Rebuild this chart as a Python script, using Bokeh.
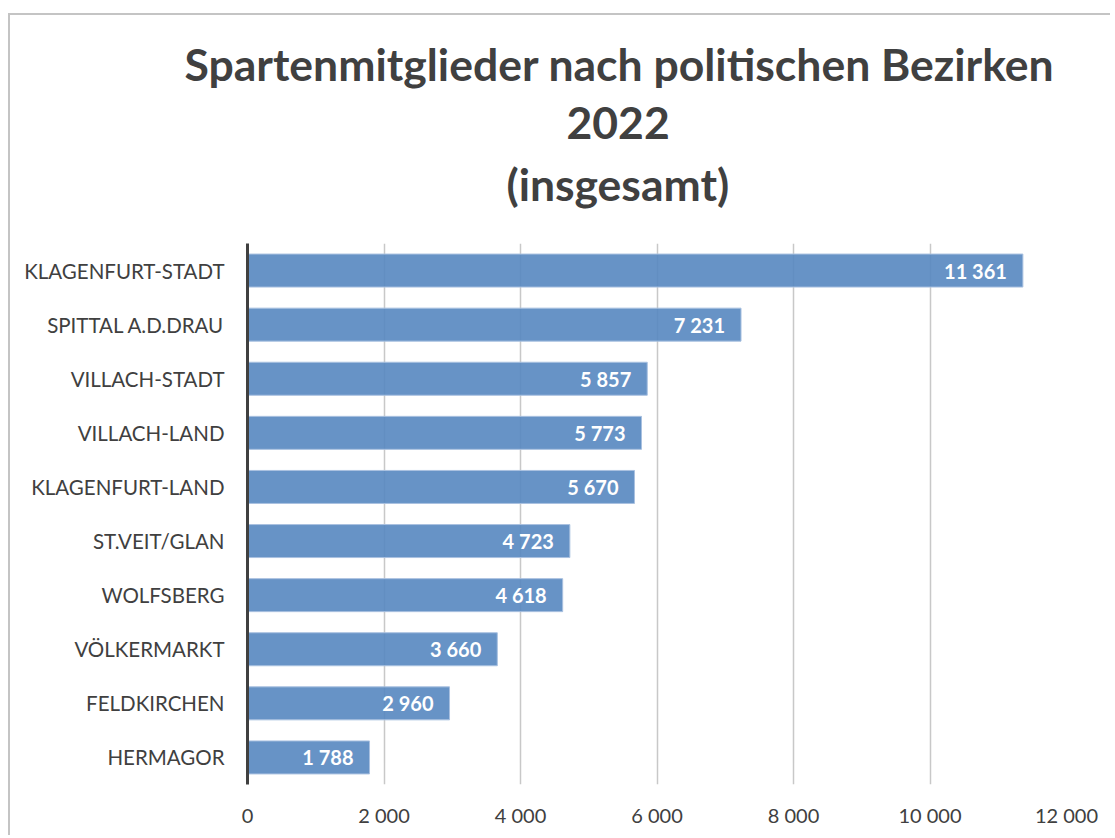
from bokeh.plotting import figure
from bokeh.models import ColumnDataSource, Title, FactorRange, Range1d, FixedTicker, CustomJSTickFormatter
from bokeh.embed import file_html
from bokeh.resources import INLINE
from bokeh.core.properties import value

districts = ["KLAGENFURT-STADT", "SPITTAL A.D.DRAU", "VILLACH-STADT", "VILLACH-LAND",
             "KLAGENFURT-LAND", "ST.VEIT/GLAN", "WOLFSBERG", "VÖLKERMARKT",
             "FELDKIRCHEN", "HERMAGOR"]
members = [11361, 7231, 5857, 5773, 5670, 4723, 4618, 3660, 2960, 1788]
x_ticks = [0, 2000, 4000, 6000, 8000, 10000, 12000]
title_lines = ["Spartenmitglieder nach politischen Bezirken", "2022", "(insgesamt)"]

def fmt(v):
    return "{:,}".format(v).replace(",", " ")

src = ColumnDataSource(dict(d=districts, m=members, lbl=[fmt(v) for v in members]))

W, H = 1110, 835
p = figure(width=W, height=H, output_backend="svg", toolbar_location=None,
           y_range=FactorRange(*reversed(districts)), x_range=Range1d(0, 12000),
           min_border_left=247, min_border_right=44, min_border_top=243, min_border_bottom=51)
p.styles = {"background": "linear-gradient(#c4c4c4, #c4c4c4) 8px 13px / 100% 2px no-repeat, "
                          "linear-gradient(#c4c4c4, #c4c4c4) 8px 13px / 2px 100% no-repeat"}
p.outline_line_color = None
p.background_fill_color = "white"
p.border_fill_color = None
p.title.visible = False

p.hbar(y="d", right="m", left=0, height=0.61, source=src,
       fill_color="#5687c0", fill_alpha=0.9, line_color="#a9c1e0", line_width=1)
p.text(x="m", y="d", text="lbl", source=src, x_offset=-16, text_align="right",
       text_baseline="middle", text_color="white", text_font=value("Lato"),
       text_font_style="bold", text_font_size="20px")

p.xaxis.ticker = FixedTicker(ticks=x_ticks)
p.xaxis.formatter = CustomJSTickFormatter(code="return tick == 0 ? '0' : (Math.floor(tick/1000) + ' ' + String(tick % 1000).padStart(3, '0'));")
p.xaxis.axis_line_color = None
p.xaxis.major_tick_line_color = None
p.xaxis.minor_tick_line_color = None
p.xaxis.major_label_text_font = "Lato"
p.xaxis.major_label_text_font_size = "20px"
p.xaxis.major_label_text_color = "#404040"
p.xaxis.major_label_standoff = 12

p.yaxis.axis_line_color = "#404040"
p.yaxis.axis_line_width = 3
p.yaxis.major_tick_line_color = None
p.yaxis.minor_tick_line_color = None
p.yaxis.major_label_text_font = "Lato"
p.yaxis.major_label_text_font_size = "20.5px"
p.yaxis.major_label_text_color = "#404040"
p.yaxis.major_label_standoff = 17

p.xgrid.grid_line_color = "#c8c8c8"
p.xgrid.grid_line_width = 1.5
p.ygrid.grid_line_color = None

# title lines, nearest to the plot first
offsets = {0: -63, 1: 319, 2: 259}
standoffs = {0: 59.4, 1: -27.6, 2: 63.4}
valigns = {0: "bottom", 1: "bottom", 2: "top"}
for i in [2, 1, 0]:
    p.add_layout(Title(text=title_lines[i], align="left", offset=offsets[i], standoff=standoffs[i],
                       vertical_align=valigns[i],
                       text_font="Lato", text_font_style="bold", text_font_size="44.5px",
                       text_color="#404040"), "above")

open("out.html", "w").write(file_html(p, INLINE))
